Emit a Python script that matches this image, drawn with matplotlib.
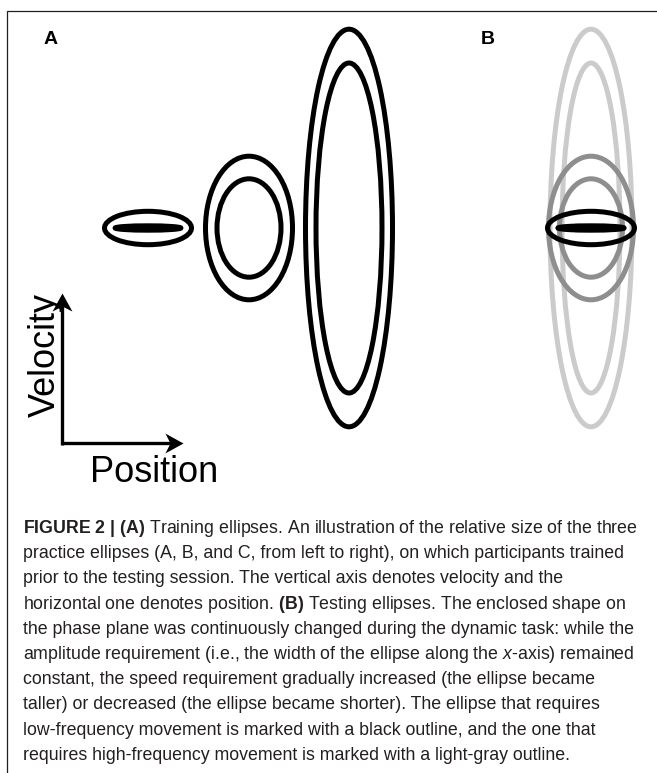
import matplotlib
matplotlib.use("Agg")
import matplotlib.pyplot as plt
from matplotlib.patches import Ellipse
from matplotlib.path import Path

# ── Data (pixel units of the phase plane) ──────────────────────────────────────
practice_names = ["A", "B", "C"]
amp_outer      = [43.5, 43.5, 43.5]     # half-width of outer ellipse
amp_inner      = [32.8, 32.0, 33.0]     # half-width of inner ellipse
vel_outer      = [16.7, 71.8, 198.8]    # half-height of outer ellipse
vel_inner      = [2.2, 49.2, 165.0]     # half-height of inner ellipse

# testing ellipses: low -> mid -> high frequency
test_amp_outer = [43.5, 42.5, 41.0]
test_amp_inner = [33.0, 31.5, 29.0]
test_colors    = ["#000000", "#8e8e8e", "#cbcbcb"]

caption_lines = [
    r"$\mathbf{FIGURE\ 2\ |\ (A)}$ Training ellipses. An illustration of the relative size of the three",
    "practice ellipses (A, B, and C, from left to right), on which participants trained",
    "prior to the testing session. The vertical axis denotes velocity and the",
    r"horizontal one denotes position. $\mathbf{(B)}$ Testing ellipses. The enclosed shape on",
    "the phase plane was continuously changed during the dynamic task: while the",
    r"amplitude requirement (i.e., the width of the ellipse along the $\mathit{x}$-axis) remained",
    "constant, the speed requirement gradually increased (the ellipse became",
    "taller) or decreased (the ellipse became shorter). The ellipse that requires",
    "low-frequency movement is marked with a black outline, and the one that",
    "requires high-frequency movement is marked with a light-gray outline.",
]

# ── Layout ─────────────────────────────────────────────────────────────────────
W, H     = 657, 773
CY       = 228
A_X      = [148, 249, 349]
B_X      = 591
LW       = 3.6
TXT      = "#231f20"

plt.rcParams["font.family"] = ["Liberation Sans", "DejaVu Sans"]
plt.rcParams["mathtext.fontset"] = "custom"
plt.rcParams["mathtext.rm"] = "Liberation Sans"
plt.rcParams["mathtext.bf"] = "Liberation Sans:bold"
plt.rcParams["mathtext.it"] = "Liberation Sans:italic"

fig = plt.figure(figsize=(W / 100, H / 100), dpi=100)
ax = fig.add_axes([0, 0, 1, 1])
ax.set_xlim(0, W)
ax.set_ylim(H, 0)
ax.axis("off")

# frame (only top and left edges visible)
ax.plot([7, 7, W + 5], [H + 5, 10.5, 10.5], color=TXT, lw=0.9,
        solid_joinstyle="miter")

# ── Panel A: training ellipses ────────────────────────────────────────────────
for x, ao, ai, vo, vi in zip(A_X, amp_outer, amp_inner, vel_outer, vel_inner):
    ax.add_patch(Ellipse((x, CY), 2 * ao, 2 * vo, fill=False, ec="black", lw=LW))
    ax.add_patch(Ellipse((x, CY), 2 * ai, 2 * vi, fill=False, ec="black", lw=LW))

# ── Panel B: testing ellipses (overlaid) ──────────────────────────────────────
for i in [2, 1, 0]:
    c = test_colors[i]
    ax.add_patch(Ellipse((B_X, CY), 2 * test_amp_outer[i], 2 * vel_outer[i],
                         fill=False, ec=c, lw=LW))
    ax.add_patch(Ellipse((B_X, CY), 2 * test_amp_inner[i], 2 * vel_inner[i],
                         fill=False, ec=c, lw=LW))

# panel letters
ax.text(44, 44, "A", fontsize=14, fontweight="bold", color="black",
        ha="left", va="baseline")
ax.text(481, 44, "B", fontsize=14, fontweight="bold", color="black",
        ha="left", va="baseline")

# ── Phase-plane axes arrows ───────────────────────────────────────────────────
head_right = Path([(0, 0), (-1, 0.55), (-0.72, 0), (-1, -0.55), (0, 0)],
                  [Path.MOVETO, Path.LINETO, Path.LINETO, Path.LINETO, Path.CLOSEPOLY])
head_up = Path([(0, 0), (0.55, -1), (0, -0.72), (-0.55, -1), (0, 0)],
               [Path.MOVETO, Path.LINETO, Path.LINETO, Path.LINETO, Path.CLOSEPOLY])
# y axis is inverted in data, marker paths are in screen space
ox, oy = 62, 443
ax.plot([ox, 176], [oy, oy], color="black", lw=2.4, solid_capstyle="butt")
ax.plot([ox, ox], [oy + 1.5, 300], color="black", lw=2.4, solid_capstyle="butt")
ax.plot([183], [oy], marker=head_right, ms=26, color="black", mew=0)
ax.plot([ox], [293], marker=head_up, ms=26, color="black", mew=0)

ax.text(55, 417, "Velocity", fontsize=26, rotation=90, rotation_mode="anchor",
        ha="left", va="baseline", color="black")
ax.text(90, 482, "Position", fontsize=26, ha="left", va="baseline", color="black")

# ── Caption ───────────────────────────────────────────────────────────────────
for i, line in enumerate(caption_lines):
    ax.text(23, 533 + i * 25.2, line, fontsize=12.8, color=TXT,
            ha="left", va="baseline")

fig.savefig("out.png", dpi=100)
